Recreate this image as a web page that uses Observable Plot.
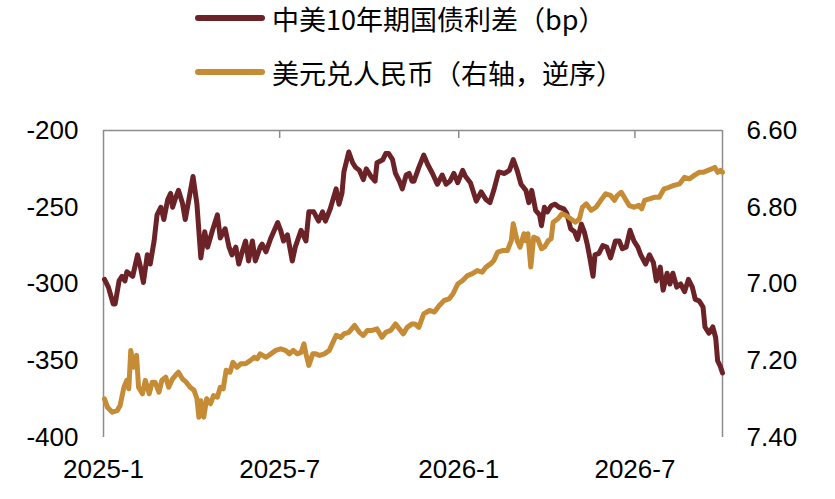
<!DOCTYPE html>
<html>
<head>
<meta charset="utf-8">
<script src="https://cdn.jsdelivr.net/npm/d3@7"></script>
<script src="https://cdn.jsdelivr.net/npm/@observablehq/plot@0.6"></script>
<style>
  html, body { margin: 0; padding: 0; background: #fff; }
  #wrap { width: 835px; }
  #legend { position: relative; height: 100px; font-family: "Noto Sans CJK SC", sans-serif; font-size: 27px; color: #000; }
  .row { position: absolute; left: 195px; height: 36px; display: flex; align-items: center; white-space: nowrap; }
  .sw { display: inline-block; width: 70px; height: 6px; border-radius: 3px; margin-right: 7px; }
</style>
</head>
<body>
<div id="wrap">
  <div id="legend"></div>
  <div id="chart"></div>
</div>
<script>
// ---------------- data ----------------
const startDate = "2025-01-01";
const endDate = "2026-09-29";
const seriesNames = ["中美10年期国债利差（bp）", "美元兑人民币（右轴，逆序）"];
const seriesColors = ["#6B2327", "#C58B35"];

// 中美10年期国债利差 (bp): days since startDate, value
const spreadDay = [1,5,10,12,16,19,22,24,30,35,38,41,45,48,52,55,59,62,66,69,71,74,77,81,84,88,92,96,100,104,107,112,117,120,125,129,132,136,139,143,146,149,153,156,161,163,167,172,179,182,185,189,194,197,203,208,211,216,221,225,228,233,239,242,245,247,252,256,259,263,267,270,275,279,281,287,290,293,297,300,304,307,311,314,317,319,324,329,333,338,343,348,352,356,360,364,369,372,377,383,388,393,397,401,406,412,417,421,425,429,434,437,440,444,448,450,453,456,460,464,468,473,476,480,484,487,491,494,497,500,503,505,509,513,517,521,526,530,533,537,541,545,549,552,557,561,565,568,572,575,579,582,585,589,593,597,601,605,608,612,616,618,622,626,629,631,634,636];
const spreadVal = [-297,-302,-313,-313,-298,-295,-298,-292,-295,-281,-289,-299,-281,-287,-272,-255,-250,-258,-245,-241,-250,-244,-239,-247,-258,-244,-230,-248,-283,-266,-276,-265,-255,-270,-264,-276,-281,-276,-287,-278,-272,-285,-272,-285,-276,-274,-279,-270,-260,-265,-272,-268,-285,-276,-265,-272,-253,-253,-259,-253,-259,-251,-238,-248,-241,-227,-214,-221,-224,-226,-232,-225,-230,-233,-221,-219,-215,-215,-219,-228,-233,-238,-229,-228,-233,-233,-224,-216,-222,-228,-235,-229,-235,-233,-228,-234,-226,-230,-234,-246,-240,-245,-247,-239,-227,-228,-226,-219,-226,-235,-239,-247,-239,-252,-255,-262,-250,-253,-249,-248,-250,-251,-254,-264,-266,-271,-261,-266,-274,-284,-295,-281,-280,-275,-276,-283,-272,-272,-277,-276,-265,-272,-276,-281,-287,-281,-286,-298,-289,-304,-293,-300,-293,-302,-300,-305,-297,-302,-310,-311,-315,-328,-332,-328,-335,-350,-354,-358];

// 美元兑人民币 (right axis, reversed): days since startDate, value
const cnyDay = [1,4,9,14,17,21,24,26,28,31,34,36,40,43,47,50,53,57,60,64,67,71,74,77,81,85,89,93,96,98,100,103,106,110,113,117,120,123,126,130,133,137,141,146,151,155,158,161,167,172,177,182,187,191,195,199,203,206,208,211,215,218,222,227,232,235,239,244,247,252,258,263,267,271,276,281,286,290,295,300,304,308,312,317,320,324,329,335,340,345,350,355,359,364,369,374,379,384,389,393,398,401,405,410,415,419,421,425,428,432,434,436,439,442,446,450,453,457,460,462,467,471,475,480,485,489,492,496,501,506,511,516,521,525,528,532,536,540,545,550,553,556,561,566,571,576,581,586,592,597,602,607,612,616,621,625,628,631,634,636];
const cnyVal = [7.299,7.321,7.334,7.330,7.317,7.269,7.251,7.273,7.173,7.217,7.186,7.269,7.286,7.251,7.286,7.256,7.256,7.282,7.251,7.243,7.269,7.247,7.238,7.230,7.247,7.256,7.269,7.277,7.299,7.347,7.304,7.347,7.299,7.312,7.291,7.295,7.269,7.273,7.225,7.230,7.204,7.217,7.208,7.208,7.199,7.191,7.195,7.182,7.191,7.182,7.173,7.169,7.173,7.182,7.173,7.182,7.178,7.156,7.182,7.212,7.182,7.182,7.186,7.182,7.173,7.156,7.134,7.139,7.130,7.126,7.108,7.126,7.134,7.121,7.121,7.117,7.139,7.126,7.121,7.104,7.117,7.130,7.113,7.104,7.104,7.113,7.078,7.069,7.073,7.056,7.043,7.039,7.026,7.000,6.991,6.978,6.973,6.965,6.969,6.956,6.947,6.939,6.917,6.913,6.913,6.887,6.843,6.887,6.904,6.869,6.887,6.869,6.956,6.878,6.882,6.908,6.904,6.887,6.882,6.839,6.830,6.817,6.821,6.830,6.839,6.830,6.800,6.791,6.808,6.800,6.782,6.765,6.769,6.782,6.769,6.761,6.778,6.795,6.800,6.795,6.804,6.782,6.778,6.774,6.774,6.752,6.748,6.743,6.739,6.722,6.726,6.717,6.709,6.709,6.704,6.700,6.696,6.709,6.704,6.709];

const xTickDates = ["2025-01-01", "2025-07-01", "2026-01-01", "2026-07-01"];
const xTickLabels = ["2025-1", "2025-7", "2026-1", "2026-7"];
const leftDomain = [-400, -200];
const leftTicks = [-400, -350, -300, -250, -200];
const rightDomain = [7.40, 6.60];   // reversed
const rightTicks = [7.40, 7.20, 7.00, 6.80, 6.60];

// ---------------- build ----------------
const start = new Date(startDate + "T00:00:00Z");
const end = new Date(endDate + "T00:00:00Z");
const dayToDate = n => d3.utcDay.offset(start, n);
const spread = spreadDay.map((d, i) => ({date: dayToDate(d), v: spreadVal[i]}));
const cny = cnyDay.map((d, i) => ({date: dayToDate(d), v: cnyVal[i]}));
const xTicks = xTickDates.map(s => new Date(s + "T00:00:00Z"));

// map right-axis value onto left scale
const toLeft = d3.scaleLinear().domain(rightDomain).range(leftDomain);
const fromLeft = toLeft.invert;

// legend
const legend = document.getElementById("legend");
seriesNames.forEach((name, i) => {
  const row = document.createElement("div");
  row.className = "row";
  row.style.top = (i === 0 ? 0 : 54) + "px";
  row.innerHTML = `<span class="sw" style="background:${seriesColors[i]}"></span><span>${name}</span>`;
  legend.appendChild(row);
});

const frameColor = "#8c8c8c";
const chart = Plot.plot({
  width: 835,
  height: 399,
  marginTop: 30,
  marginBottom: 62,
  marginLeft: 103,
  marginRight: 113,
  style: {fontFamily: "'Liberation Sans', Arial, sans-serif", fontSize: "26px", color: "#000", background: "#fff"},
  x: {type: "utc", domain: [start, end], label: null},
  y: {domain: leftDomain, label: null},
  marks: [
    Plot.ruleX([start, end], {stroke: frameColor, strokeWidth: 1.5}),
    Plot.ruleY([leftDomain[1]], {stroke: frameColor, strokeWidth: 1.5}),
    Plot.tickX(xTicks.slice(1), {stroke: frameColor, strokeWidth: 1.5, insetBottom: 299}),
    Plot.axisX(xTicks, {anchor: "bottom", label: null, tickSize: 0, tickPadding: 22, fontSize: 26,
      tickFormat: d => xTickLabels[xTicks.findIndex(t => +t === +d)]}),
    Plot.axisY(leftTicks, {anchor: "left", label: null, tickSize: 0, tickPadding: 25, fontSize: 26, tickFormat: d => String(d)}),
    Plot.axisY(rightTicks.map(toLeft), {anchor: "right", label: null, tickSize: 0, tickPadding: 24, fontSize: 26,
      tickFormat: v => fromLeft(v).toFixed(2)}),
    Plot.line(spread, {x: "date", y: "v", stroke: seriesColors[0], strokeWidth: 5}),
    Plot.line(cny, {x: "date", y: d => toLeft(d.v), stroke: seriesColors[1], strokeWidth: 5})
  ]
});
document.getElementById("chart").appendChild(chart);
</script>
</body>
</html>
